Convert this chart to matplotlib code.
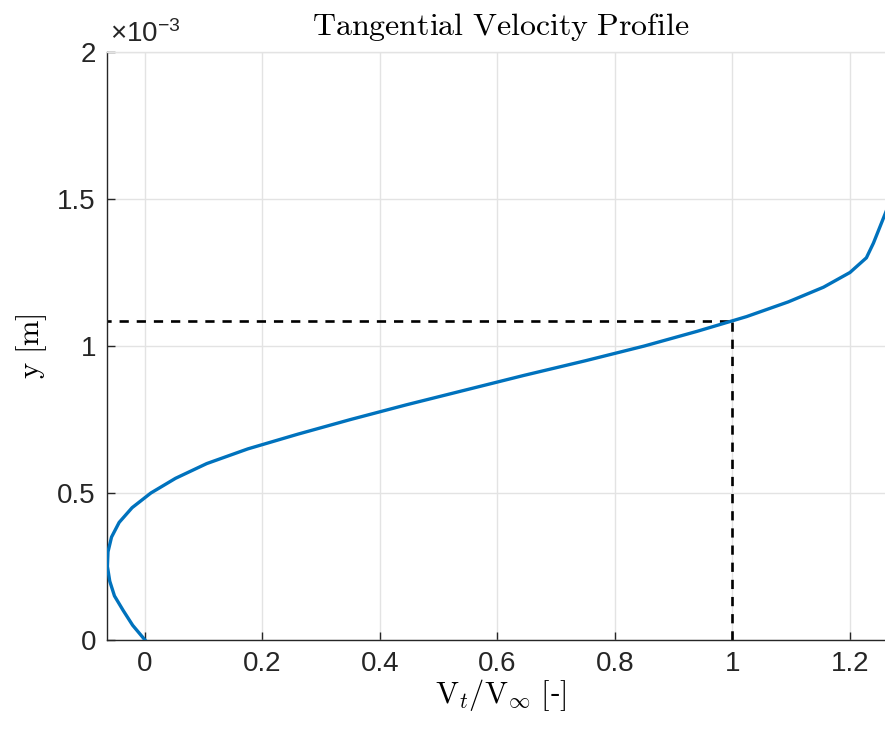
import matplotlib
matplotlib.use('Agg')
import matplotlib.pyplot as plt
from matplotlib.ticker import FuncFormatter

# wall-normal position [m] and tangential velocity ratio V_t/V_inf
y_m = [0.0, 0.05e-3, 0.10e-3, 0.15e-3, 0.20e-3, 0.25e-3, 0.30e-3, 0.35e-3,
       0.40e-3, 0.45e-3, 0.50e-3, 0.55e-3, 0.60e-3, 0.65e-3, 0.70e-3, 0.75e-3,
       0.80e-3, 0.85e-3, 0.90e-3, 0.95e-3, 1.00e-3, 1.05e-3, 1.10e-3, 1.15e-3,
       1.20e-3, 1.25e-3, 1.30e-3, 1.35e-3, 1.40e-3, 1.45e-3, 1.50e-3]
vt_ratio = [0.0, -0.021, -0.037, -0.052, -0.060, -0.064, -0.063, -0.057,
            -0.044, -0.022, 0.010, 0.052, 0.105, 0.175, 0.26, 0.35,
            0.445, 0.545, 0.645, 0.75, 0.85, 0.94, 1.024, 1.095,
            1.155, 1.20, 1.228, 1.24, 1.25, 1.26, 1.27]

# boundary layer edge
delta = 1.085e-3
edge_ratio = 1.0

xticks = [0, 0.2, 0.4, 0.6, 0.8, 1.0, 1.2]
yticks = [0, 0.5e-3, 1.0e-3, 1.5e-3, 2.0e-3]

plt.rcParams['mathtext.fontset'] = 'cm'
plt.rcParams['mathtext.rm'] = 'Liberation Sans'
plt.rcParams['mathtext.it'] = 'Liberation Sans:italic'
plt.rcParams['mathtext.sf'] = 'Liberation Sans'
plt.rcParams['font.family'] = ['Liberation Sans', 'DejaVu Sans']

fig = plt.figure(figsize=(8.85, 7.29), dpi=100)
ax = fig.add_axes([107 / 885, 1 - 640 / 729, 787 / 885, 588 / 729])

dash = (0, (3.5, 3.0))
ax.plot(vt_ratio, y_m, color='#0072BD', lw=2.4, zorder=3)
ax.plot([-1, edge_ratio], [delta, delta], color='black', ls=dash, lw=1.9, zorder=2)
ax.plot([edge_ratio, edge_ratio], [0, delta], color='black', ls=dash, lw=1.9, zorder=2)

ax.set_xlim(-0.0647, 1.275)
ax.set_ylim(0, 2e-3)
ax.set_xticks(xticks)
ax.set_yticks(yticks)
ax.xaxis.set_major_formatter(FuncFormatter(lambda v, p: f'{v:g}'))
ax.yaxis.set_major_formatter(FuncFormatter(lambda v, p: f'{v * 1e3:g}'))
ax.tick_params(direction='in', length=6, width=1, colors='#262626',
               labelsize=20, top=False, right=False, pad=8)
ax.grid(True, color='#e3e3e3', lw=1)
ax.set_axisbelow(True)
for s in ax.spines.values():
    s.set_color('#262626')
    s.set_linewidth(1)
ax.spines['top'].set_color('#e3e3e3')
ax.spines['right'].set_visible(False)

ax.text(0.004, 1 + 10 / 588, r'$\times10^{-3}$', transform=ax.transAxes,
        fontsize=20, color='#262626', math_fontfamily='custom',
        va='baseline', ha='left')

ax.set_title(r'$\mathrm{Tangential\ Velocity\ Profile}$', fontsize=23, pad=12)
ax.set_xlabel(r'$\mathrm{V}_t/\mathrm{V}_\infty\ \mathrm{[}$-$\mathrm{]}$', fontsize=22, labelpad=0)
ax.set_ylabel(r'$\mathrm{y\ [m]}$', fontsize=22, labelpad=6)

fig.savefig('out.png', dpi=100)
